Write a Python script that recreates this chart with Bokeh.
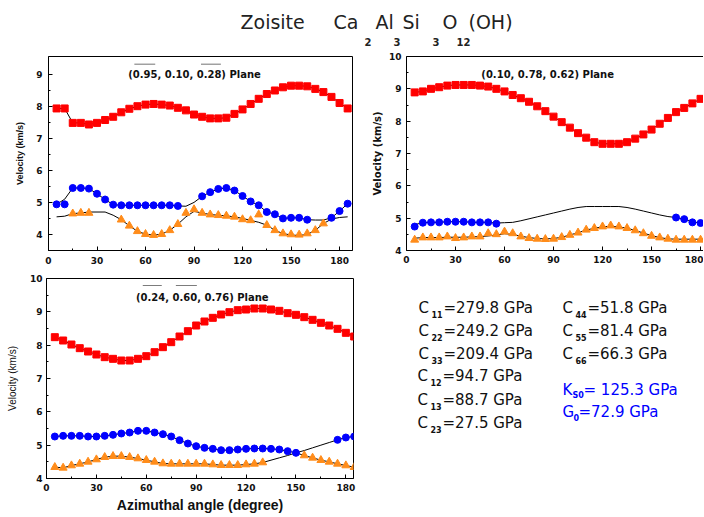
from bokeh.plotting import figure
from bokeh.models import Range1d, LinearAxis, FixedTicker, Label, BoxAnnotation
from bokeh.layouts import column, row
from bokeh.embed import file_html
from bokeh.resources import INLINE

# ---------------- data ----------------
angles = list(range(5, 190, 5))          # azimuthal angle, degrees (37 values)

x_ticks = [0, 30, 60, 90, 120, 150, 180]
x_minor = [15, 45, 75, 105, 135, 165]

# panel A : (-0.95, 0.10, -0.28) plane
a_vp = [7.93, 7.93, 7.48, 7.48, 7.43, 7.48, 7.57, 7.67, 7.81, 7.92,
        8.00, 8.05, 8.07, 8.05, 8.02, 7.95, 7.87, 7.74, 7.67, 7.62,
        7.62, 7.64, 7.76, 7.90, 8.07, 8.23, 8.38, 8.49, 8.59, 8.64,
        8.64, 8.62, 8.54, 8.44, 8.29, 8.10, 7.93]
a_s1_line = [4.94, 5.10, 5.45, 5.45, 5.43, 5.27, 5.09, 4.93, 4.91, 4.91,
             4.91, 4.91, 4.91, 4.91, 4.91, 4.89, 4.88, 5.00, 5.19, 5.32,
             5.42, 5.45, 5.37, 5.20, 5.03, 4.91, 4.70, 4.63, 4.50, 4.52,
             4.52, 4.46, 4.45, 4.45, 4.52, 4.73, 4.96]
a_s2_line = [4.55, 4.57, 4.65, 4.67, 4.70, 4.70, 4.70, 4.60, 4.46, 4.27,
             4.10, 4.01, 3.98, 4.01, 4.13, 4.32, 4.55, 4.72, 4.67, 4.62,
             4.60, 4.58, 4.55, 4.50, 4.44, 4.38, 4.29, 4.13, 4.03, 3.98,
             3.97, 4.00, 4.13, 4.34, 4.48, 4.53, 4.55]
a_s1_ang = [5, 10, 15, 20, 25, 30, 35, 40, 45, 50, 55, 60, 65, 70, 75, 80,
            95, 100, 105, 110, 115, 120, 125, 130, 135, 140, 145, 150, 155, 160,
            175, 180, 185]
a_s1 = [4.94, 4.94, 5.45, 5.45, 5.43, 5.27, 5.09, 4.93, 4.91, 4.91, 4.91, 4.91, 4.91, 4.91, 4.91, 4.89,
        5.19, 5.32, 5.42, 5.45, 5.37, 5.20, 5.03, 4.91, 4.70, 4.63, 4.50, 4.52, 4.52, 4.46,
        4.52, 4.73, 4.96]
a_s2_ang = [15, 20, 25, 45, 50, 55, 60, 65, 70, 75, 80, 85, 90, 95, 100, 105,
            110, 115, 120, 125, 130, 135, 140, 145, 150, 155, 160, 165, 170]
a_s2 = [4.65, 4.67, 4.67, 4.46, 4.27, 4.10, 4.01, 3.98, 4.01, 4.13, 4.32, 4.67, 4.78, 4.67, 4.62, 4.60,
        4.58, 4.55, 4.47, 4.44, 4.62, 4.29, 4.13, 4.03, 4.00, 3.99, 4.03, 4.13, 4.34]

# panel B : (0.10, 0.78, 0.62) plane
b_vp = [8.89, 8.92, 9.00, 9.05, 9.10, 9.12, 9.12, 9.12, 9.10, 9.07,
        9.00, 8.92, 8.81, 8.71, 8.60, 8.46, 8.31, 8.14, 7.97, 7.80,
        7.63, 7.49, 7.35, 7.30, 7.30, 7.30, 7.35, 7.46, 7.59, 7.74,
        7.92, 8.10, 8.28, 8.41, 8.55, 8.69, 8.84]
b_s1_line = [4.80, 4.86, 4.87, 4.87, 4.89, 4.89, 4.89, 4.87, 4.87, 4.87,
             4.85, 4.86, 4.87, 4.92, 4.98, 5.04, 5.10, 5.16, 5.22, 5.28,
             5.33, 5.36, 5.36, 5.36, 5.36, 5.36, 5.33, 5.28, 5.22, 5.16,
             5.10, 5.05, 5.02, 4.97, 4.88, 4.86, 4.86]
b_s2_line = [4.38, 4.40, 4.40, 4.40, 4.41, 4.41, 4.41, 4.42, 4.43, 4.45,
             4.48, 4.52, 4.50, 4.44, 4.40, 4.37, 4.36, 4.37, 4.41, 4.48,
             4.55, 4.63, 4.69, 4.73, 4.75, 4.73, 4.69, 4.62, 4.54, 4.46,
             4.40, 4.36, 4.35, 4.35, 4.35, 4.35, 4.35]
b_s1_ang = [5, 10, 15, 20, 25, 30, 35, 40, 45, 50, 55, 165, 170, 175, 180]
b_s1 = [4.74, 4.86, 4.87, 4.87, 4.89, 4.89, 4.89, 4.87, 4.87, 4.87, 4.83, 5.02, 4.97, 4.87, 4.85]
b_s2 = [4.33, 4.40, 4.40, 4.40, 4.43, 4.38, 4.40, 4.43, 4.43, 4.53,
        4.50, 4.58, 4.53, 4.43, 4.38, 4.36, 4.35, 4.36, 4.41, 4.48,
        4.55, 4.64, 4.69, 4.74, 4.77, 4.74, 4.69, 4.62, 4.53, 4.45,
        4.40, 4.36, 4.33, 4.33, 4.33, 4.33, 4.33]

# panel C : (-0.24, -0.60, 0.76) plane
c_vp = [8.24, 8.14, 8.02, 7.91, 7.81, 7.72, 7.64, 7.59, 7.54, 7.54,
        7.59, 7.67, 7.79, 7.94, 8.09, 8.26, 8.42, 8.59, 8.71, 8.82,
        8.92, 8.99, 9.05, 9.07, 9.10, 9.10, 9.07, 9.03, 8.96, 8.91,
        8.84, 8.76, 8.67, 8.59, 8.49, 8.37, 8.26]
c_s1_line = [5.26, 5.28, 5.28, 5.28, 5.26, 5.26, 5.28, 5.31, 5.35, 5.38,
             5.43, 5.43, 5.38, 5.33, 5.26, 5.15, 5.05, 4.97, 4.92, 4.89,
             4.85, 4.85, 4.87, 4.89, 4.90, 4.90, 4.89, 4.87, 4.82, 4.77,
             4.69, 4.62, 4.55, 4.50, 4.44, 4.39, 4.34]
c_s2_line = [4.34, 4.32, 4.39, 4.44, 4.50, 4.57, 4.64, 4.67, 4.67, 4.64,
             4.60, 4.55, 4.50, 4.45, 4.44, 4.44, 4.44, 4.44, 4.44, 4.42,
             4.40, 4.40, 4.40, 4.42, 4.44, 4.48, 4.55, 4.62, 4.69, 4.77,
             4.84, 4.92, 5.00, 5.08, 5.16, 5.23, 5.26]
c_s1_ang = [5, 10, 15, 20, 25, 30, 35, 40, 45, 50, 55, 60, 65, 70, 75, 80, 85, 90, 95, 100,
            105, 110, 115, 120, 125, 130, 135, 140, 145, 150, 175, 180, 185]
c_s1 = [5.26, 5.28, 5.28, 5.28, 5.26, 5.26, 5.28, 5.31, 5.35, 5.38,
        5.43, 5.43, 5.38, 5.33, 5.26, 5.15, 5.05, 4.97, 4.92, 4.89,
        4.85, 4.85, 4.87, 4.89, 4.90, 4.90, 4.89, 4.87, 4.82, 4.77,
        5.16, 5.23, 5.26]
c_s2_ang = [5, 10, 15, 20, 25, 30, 35, 40, 45, 50, 55, 60, 65, 70, 75, 80, 85, 90, 95, 100,
            105, 110, 115, 120, 125, 130, 155, 160, 165, 170, 175, 180, 185]
c_s2 = [4.34, 4.32, 4.39, 4.44, 4.50, 4.57, 4.64, 4.67, 4.67, 4.64,
        4.60, 4.55, 4.50, 4.45, 4.44, 4.44, 4.44, 4.44, 4.44, 4.42,
        4.40, 4.40, 4.40, 4.42, 4.44, 4.48, 4.69, 4.62, 4.55, 4.50, 4.44, 4.39, 4.34]

# elastic constants (GPa)
cij_sub = ["11", "22", "33", "44", "55", "66", "12", "13", "23"]
cij_val = [279.8, 249.2, 209.4, 51.8, 81.4, 66.3, 94.7, 88.7, 27.5]
mod_sym = ["K", "G"]
mod_sub = ["S0", "0"]
mod_val = [125.3, 72.9]

# ---------------- styling helpers ----------------
RED, BLUE, ORANGE = "#ff0000", "#0000ff", "#ff8c1a"
FONT = "Liberation Sans"
TF = "DejaVu Sans"
TXT = "#111111"


def make_panel(width, height, xend, ylo, yhi, yticks, mb):
    p = figure(width=width, height=height, x_range=Range1d(0, xend),
               y_range=Range1d(ylo, yhi), output_backend="svg",
               toolbar_location=None, title=None,
               min_border_left=mb[0], min_border_right=mb[1],
               min_border_top=mb[2], min_border_bottom=mb[3],
               background_fill_color="white", border_fill_color="white")
    p.grid.visible = False
    p.outline_line_color = "black"
    p.outline_line_width = 1
    p.xaxis.ticker = FixedTicker(ticks=x_ticks, minor_ticks=x_minor)
    p.yaxis.ticker = FixedTicker(ticks=yticks, minor_ticks=[t + 0.5 for t in yticks[:-1]])
    for ax in (p.xaxis[0], p.yaxis[0]):
        ax.axis_line_color = "black"
        ax.major_tick_in = 4
        ax.major_tick_out = 0
        ax.minor_tick_in = 2
        ax.minor_tick_out = 0
        ax.major_tick_line_color = "black"
        ax.minor_tick_line_color = "black"
        ax.major_label_text_font = TF
        ax.major_label_text_font_size = "9px"
        ax.major_label_text_font_style = "bold"
        ax.major_label_text_color = TXT
        ax.axis_label_text_font = FONT
        ax.axis_label_text_color = TXT
    return p


def draw(p, vp, s1_line, s2_line, s1_ang, s1, s2_ang, s2):
    p.line(angles, vp, line_color="black", line_width=1)
    p.line(angles, s1_line, line_color="black", line_width=1)
    p.line(angles, s2_line, line_color="black", line_width=1)
    p.scatter(angles, vp, marker="square", size=7, fill_color=RED, line_color=RED)
    p.scatter(s1_ang, s1, marker="circle", size=7, fill_color=BLUE, line_color=BLUE)
    p.scatter(s2_ang, s2, marker="triangle", size=8, fill_color=ORANGE, line_color=ORANGE)


def plane_label(p, x, y, text):
    p.add_layout(Label(x=x, y=y, text=text, text_align="center", text_baseline="middle",
                       text_font=TF, text_font_size="10px", text_font_style="bold",
                       text_color=TXT))


def overline(p, x0, x1, y):
    p.add_layout(BoxAnnotation(left=x0, right=x1, top=y, bottom=y, fill_alpha=0,
                               line_color="black", line_width=1))


# ---------------- title strip ----------------
tfig = figure(width=703, height=50, x_range=Range1d(0, 703), y_range=Range1d(50, 0),
              output_backend="svg", toolbar_location=None, title=None, min_border=0,
              background_fill_color="white", border_fill_color="white")
tfig.axis.visible = False
tfig.grid.visible = False
tfig.outline_line_color = None
main_parts = [("Zoisite", 240), ("Ca", 333), ("Al", 375), ("Si", 402), ("O", 442), ("(OH)", 468)]
sub_parts = [("2", 364), ("3", 393), ("3", 432), ("12", 456)]
for s, x in main_parts:
    tfig.add_layout(Label(x=x, y=21, text=s, text_font=TF, text_font_size="19px",
                          text_baseline="middle", text_color="#222222"))
for s, x in sub_parts:
    tfig.add_layout(Label(x=x, y=41, text=s, text_font=TF, text_font_size="10px",
                          text_font_style="bold", text_baseline="middle", text_color="#222222"))

# ---------------- panel A (top-left) ----------------
pa = make_panel(362, 218, 188, 3.5, 9.55, [4, 5, 6, 7, 8, 9], (48, 10, 5, 18))
pa.xaxis.major_label_standoff = 6
pa.yaxis.major_label_standoff = 6
pa.yaxis.axis_label = "Velocity (km/s)"
pa.yaxis.axis_label_text_font_size = "9px"
pa.yaxis.axis_label_text_font_style = "bold"
pa.yaxis.axis_label_standoff = 8
draw(pa, a_vp, a_s1_line, a_s2_line, a_s1_ang, a_s1, a_s2_ang, a_s2)
plane_label(pa, 90.3, 9.0, "(0.95, 0.10, 0.28) Plane")
overline(pa, 53.1, 66.0, 9.31)
overline(pa, 94.3, 106.6, 9.31)

# ---------------- panel B (top-right) ----------------
pb = make_panel(341, 218, 181.8, 4, 10, [4, 5, 6, 7, 8, 9, 10], (44, 0, 6, 16))
pb.outline_line_color = None
top_axis = LinearAxis(ticker=FixedTicker(ticks=[]), major_tick_line_color=None,
                      minor_tick_line_color=None, major_label_text_font_size="0px",
                      major_label_standoff=0, axis_line_color="black")
pb.add_layout(top_axis, "above")
pb.xaxis[0].major_label_standoff = 4
pb.yaxis.major_label_standoff = 5
pb.yaxis.axis_label = "Velocity (km/s)"
pb.yaxis.axis_label_text_font = TF
pb.yaxis.axis_label_text_font_size = "10px"
pb.yaxis.axis_label_text_font_style = "bold"
pb.yaxis.axis_label_standoff = 3
draw(pb, b_vp, b_s1_line, b_s2_line, b_s1_ang, b_s1, angles, b_s2)
plane_label(pb, 86.4, 9.44, "(0.10, 0.78, 0.62) Plane")

# ---------------- panel C (bottom-left) ----------------
pc = make_panel(362, 247, 184.6, 4, 10, [4, 5, 6, 7, 8, 9, 10], (46, 9, 10, 37))
pc.xaxis.major_label_standoff = 5
pc.yaxis.major_label_standoff = 4
pc.yaxis.axis_label = "Velocity (km/s)"
pc.yaxis.axis_label_text_font_size = "10px"
pc.yaxis.axis_label_text_font_style = "normal"
pc.yaxis.axis_label_standoff = 9
pc.xaxis.axis_label = "Azimuthal angle (degree)"
pc.xaxis.axis_label_text_font_size = "14px"
pc.xaxis.axis_label_text_font_style = "bold"
pc.xaxis.axis_label_standoff = 3
draw(pc, c_vp, c_s1_line, c_s2_line, c_s1_ang, c_s1, c_s2_ang, c_s2)
plane_label(pc, 93.7, 9.43, "(0.24, 0.60, 0.76) Plane")
overline(pc, 57.9, 69.3, 9.79)
overline(pc, 77.8, 90.4, 9.79)

# ---------------- constants text block ----------------
kf = figure(width=341, height=247, x_range=Range1d(362, 703), y_range=Range1d(515, 268),
            output_backend="svg", toolbar_location=None, title=None, min_border=0,
            background_fill_color="white", border_fill_color="white")
kf.axis.visible = False
kf.grid.visible = False
kf.outline_line_color = None

cpos = [(418, 305), (418, 333), (418, 361), (562, 305), (562, 333), (562, 361),
        (417, 388), (417, 418), (417, 447)]
for (x, y), sub, val in zip(cpos, cij_sub, cij_val):
    kf.add_layout(Label(x=x, y=y, text="C", text_font=TF, text_font_size="15px",
                        text_baseline="middle", text_color=TXT))
    kf.add_layout(Label(x=x + 13, y=y + 8, text=sub, text_font=TF, text_font_size="8px",
                        text_font_style="bold", text_baseline="middle", text_color=TXT))
    kf.add_layout(Label(x=x + 25, y=y, text="=%.1f GPa" % val, text_font=TF,
                        text_font_size="15px", text_baseline="middle", text_color=TXT))

mpos = [(562, 406, 10, 21, "= %.1f GPa"), (562, 433, 11, 16, "=%.1f GPa")]
for (x, y, dsub, drest, fmt), sym, sub, val in zip(mpos, mod_sym, mod_sub, mod_val):
    kf.add_layout(Label(x=x, y=y, text=sym, text_font=TF, text_font_size="15px",
                        text_baseline="middle", text_color=BLUE))
    kf.add_layout(Label(x=x + dsub, y=y + 7, text=sub, text_font=TF, text_font_size="8px",
                        text_font_style="bold", text_baseline="middle", text_color=BLUE))
    kf.add_layout(Label(x=x + drest, y=y, text=fmt % val, text_font=TF,
                        text_font_size="15px", text_baseline="middle", text_color=BLUE))

layout = column(tfig, row(pa, pb), row(pc, kf))

with open("out.html", "w") as f:
    f.write(file_html(layout, INLINE))
